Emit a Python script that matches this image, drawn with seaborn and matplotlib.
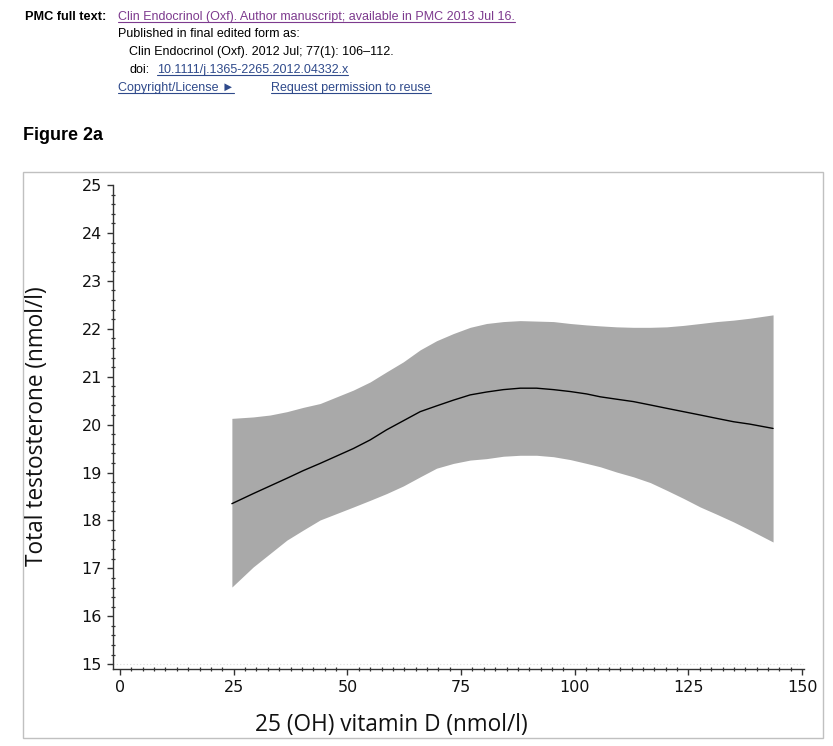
import matplotlib
matplotlib.use("Agg")
import matplotlib.pyplot as plt
from matplotlib.lines import Line2D
from matplotlib.patches import Rectangle
from matplotlib.ticker import AutoMinorLocator
import seaborn as sns
import pandas as pd

# ---- data ----
vitd = [24.6, 29.3, 33, 36.7, 40.3, 44, 51.3, 55, 58.6, 62.3, 66, 69.6, 73.3, 77, 80.6,
        84.3, 88, 91.6, 95.3, 99, 102.6, 105.6, 109.2, 112.9, 116.6, 120.2, 123.9,
        127.6, 131.2, 134.9, 138.5, 143.6]
testo_mean = [18.35, 18.56, 18.72, 18.88, 19.04, 19.19, 19.50, 19.68, 19.89, 20.08, 20.27,
              20.39, 20.51, 20.62, 20.68, 20.73, 20.76, 20.76, 20.73, 20.69, 20.64, 20.58,
              20.53, 20.48, 20.41, 20.34, 20.27, 20.20, 20.13, 20.06, 20.01, 19.92]
testo_upper = [20.13, 20.16, 20.20, 20.27, 20.36, 20.44, 20.72, 20.89, 21.10, 21.31, 21.56,
               21.75, 21.90, 22.03, 22.11, 22.15, 22.17, 22.16, 22.15, 22.11, 22.08, 22.06,
               22.04, 22.03, 22.03, 22.04, 22.07, 22.11, 22.15, 22.18, 22.22, 22.29]
testo_lower = [16.61, 17.03, 17.31, 17.59, 17.80, 18.01, 18.28, 18.42, 18.56, 18.72, 18.91,
               19.09, 19.19, 19.26, 19.29, 19.34, 19.36, 19.36, 19.33, 19.27, 19.19, 19.12,
               19.01, 18.91, 18.79, 18.63, 18.46, 18.28, 18.13, 17.97, 17.80, 17.55]
x_ticks = [0, 25, 50, 75, 100, 125, 150]
y_ticks = [15, 16, 17, 18, 19, 20, 21, 22, 23, 24, 25]

df = pd.DataFrame({"vitd": vitd, "mean": testo_mean,
                   "upper": testo_upper, "lower": testo_lower})

sns.set_theme(style="white")
plt.rcParams["font.family"] = ["DejaVu Sans"]

W, H = 833, 746
fig = plt.figure(figsize=(W / 100, H / 100), dpi=100)
fig.patch.set_facecolor("white")


def px(x, y):
    return x / W, 1 - y / H


# axes placement
ax_l, ax_r, ax_t, ax_b = 113, 804, 185, 669
ax = fig.add_axes([ax_l / W, 1 - ax_b / H, (ax_r - ax_l) / W, (ax_b - ax_t) / H])
ax.set_facecolor("white")

ax.fill_between(df["vitd"], df["lower"], df["upper"], color="#a9a9a9", linewidth=0, zorder=2)
sns.lineplot(data=df, x="vitd", y="mean", color="black", linewidth=1.0, ax=ax, zorder=3)
ax.axhline(15, color="#dcdcdc", linestyle=(0, (1, 2)), linewidth=0.8, zorder=1)

ax.set_xlim(-1.54, 150.4)
ax.set_ylim(14.9, 25.0)
ax.set_xticks(x_ticks)
ax.set_yticks(y_ticks)
ax.xaxis.set_minor_locator(AutoMinorLocator(10))
ax.yaxis.set_minor_locator(AutoMinorLocator(5))
ax.set_xlabel("")
ax.set_ylabel("")

for s in ["top", "right"]:
    ax.spines[s].set_visible(False)
for s in ["left", "bottom"]:
    ax.spines[s].set_color("#333333")
    ax.spines[s].set_linewidth(1.0)

ax.tick_params(axis="both", which="major", direction="out", length=4, width=1.0,
               color="#333333", labelsize=11.5, labelcolor="#111111", pad=4)
ax.tick_params(axis="both", which="minor", direction="inout", length=3, width=0.9,
               color="#333333")
ax.tick_params(left=True, bottom=True)
ax.tick_params(axis="both", which="minor", left=True, bottom=True)

# axis labels (placed like the original)
lab_font = ["Open Sans", "DejaVu Sans"]
fig.text(*px(37, 426), "Total testosterone (nmol/l)", rotation=90, ha="center", va="center",
         fontsize=16.3, family=lab_font, color="#111111")
fig.text(*px(391.5, 725), "25 (OH) vitamin D (nmol/l)", ha="center", va="center",
         fontsize=16.3, family=lab_font, color="#111111")

# frame around the figure
fig.add_artist(Rectangle(px(23, 738), (823 - 23) / W, (738 - 172) / H, transform=fig.transFigure,
                         fill=False, edgecolor="#c0c0c0", linewidth=1.0))

# header text
hf = ["Liberation Sans", "DejaVu Sans"]
fs = 9.0
purple = "#7d3a8e"
blue = "#2f4a8b"
texts = []
texts.append((fig.text(*px(25, 17), "PMC full text:", fontsize=9.2, family=hf, weight="bold",
                       va="center", color="black"), False))
texts.append((fig.text(*px(118, 17), "Clin Endocrinol (Oxf). Author manuscript; available in PMC 2013 Jul 16.",
                       fontsize=fs, family=hf, va="center", color=purple), True))
texts.append((fig.text(*px(118, 34), "Published in final edited form as:", fontsize=fs, family=hf,
                       va="center", color="black"), False))
texts.append((fig.text(*px(129, 52), "Clin Endocrinol (Oxf). 2012 Jul; 77(1): 106\u2013112.", fontsize=fs,
                       family=hf, va="center", color="black"), False))
texts.append((fig.text(*px(129, 70), "doi:", fontsize=fs, family=hf, va="center", color="black"), False))
texts.append((fig.text(*px(157, 70), "10.1111/j.1365-2265.2012.04332.x", fontsize=fs, family=hf,
                       va="center", color=blue), True))
texts.append((fig.text(*px(118, 88), "Copyright/License \u25ba", fontsize=fs, family=hf, va="center",
                       color=blue), True))
texts.append((fig.text(*px(271, 88), "Request permission to reuse", fontsize=fs, family=hf,
                       va="center", color=blue), True))

fig.text(*px(23, 135), "Figure 2a", fontsize=13, family=hf, weight="bold", va="center", color="black")

# underlines for links
fig.canvas.draw()
renderer = fig.canvas.get_renderer()
for t, ul in texts:
    if not ul:
        continue
    bb = t.get_window_extent(renderer)
    y = bb.y0 + 1.0
    fig.add_artist(Line2D([bb.x0 / W, bb.x1 / W], [y / H, y / H], transform=fig.transFigure,
                          color=t.get_color(), linewidth=0.8))

fig.savefig("out.png", dpi=100, facecolor="white")
